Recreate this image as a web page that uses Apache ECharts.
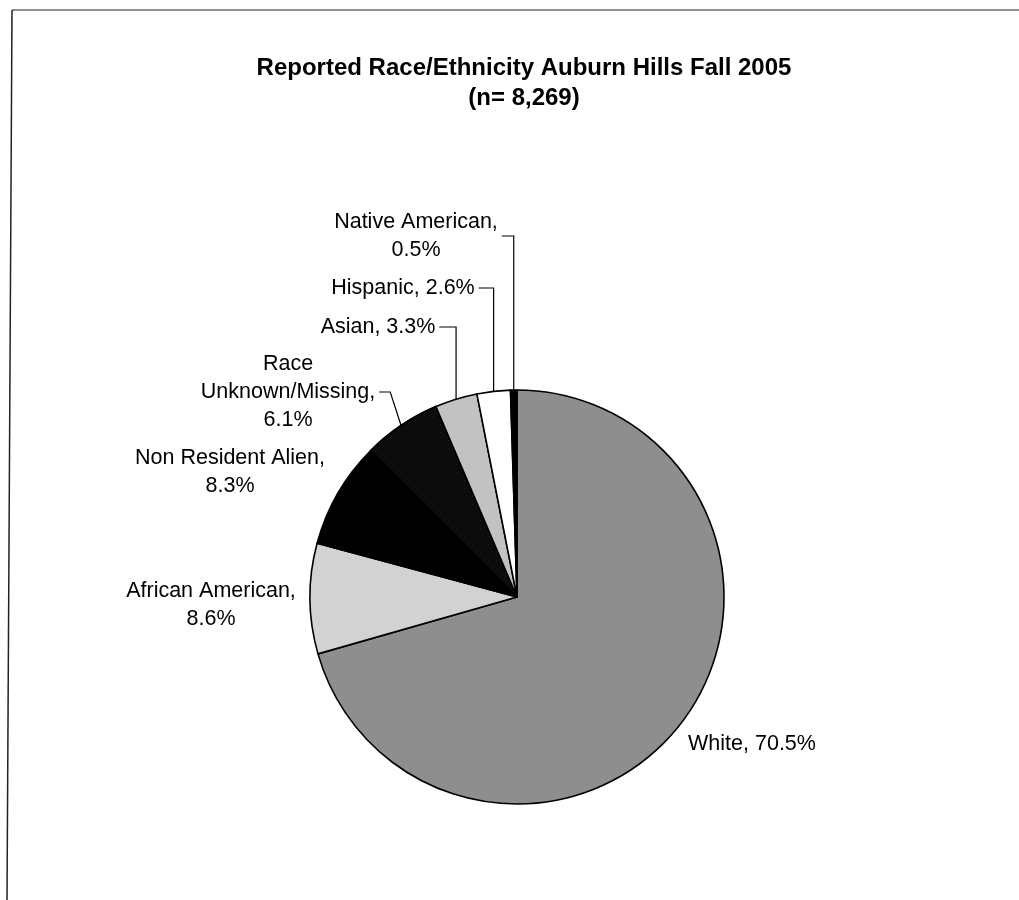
<!DOCTYPE html>
<html>
<head>
<meta charset="utf-8">
<script src="https://cdn.jsdelivr.net/npm/echarts@6/dist/echarts.min.js"></script>
<style>
html,body{margin:0;padding:0;background:#fff;}
#chart{width:1019px;height:900px;}
</style>
</head>
<body>
<div id="chart"></div>
<script>
// ---- data ----
const categories = ['White', 'African American', 'Non Resident Alien', 'Race Unknown/Missing', 'Asian', 'Hispanic', 'Native American'];
const percents = [70.5, 8.6, 8.3, 6.1, 3.3, 2.6, 0.5];
const titleLines = ['Reported Race/Ethnicity Auburn Hills Fall 2005', '(n= 8,269)'];

// ---- label text wrapping (display only) ----
const labelNames = ['White', 'African American', 'Non Resident Alien', 'Race\nUnknown/Missing', 'Asian', 'Hispanic', 'Native American'];
const labelSeps = [', ', ',\n', ',\n', ',\n', ', ', ', ', ',\n'];

// ---- styles ----
const fills = ['#8e8e8e', '#d2d2d2', '#000000', '#0c0c0c', '#c2c2c2', '#ffffff', '#000000'];
const labelPlace = [
  { x: 752, y: 744, leader: null },
  { x: 211, y: 605, leader: null },
  { x: 230, y: 472, leader: null },
  { x: 288, y: 392, leader: 'elbow' },
  { x: 378, y: 327, leader: 'vertical' },
  { x: 403, y: 288, leader: 'vertical' },
  { x: 416, y: 236, leader: 'vertical' }
];

const chart = echarts.init(document.getElementById('chart'));

const data = categories.map((c, i) => {
  const item = {
    name: c,
    value: percents[i],
    itemStyle: { color: fills[i] },
    labelLine: { show: !!labelPlace[i].leader }
  };
  if (i === 3) {
    item.itemStyle.decal = {
      symbol: 'rect',
      symbolSize: 0.35,
      color: 'rgba(255,255,255,0.5)',
      dashArrayX: [[1, 7]],
      dashArrayY: [1, 7],
      rotation: 0
    };
  }
  return item;
});

chart.setOption({
  backgroundColor: '#ffffff',
  animation: false,
  title: {
    text: titleLines.join('\n'),
    left: 519,
    top: 48,
    textAlign: 'center',
    textStyle: {
      fontFamily: 'Liberation Sans, Arial, sans-serif',
      fontSize: 24,
      fontWeight: 'bold',
      color: '#000',
      lineHeight: 30
    }
  },
  graphic: [
    { type: 'line', shape: { x1: 12, y1: 10, x2: 1019, y2: 10 }, style: { stroke: '#222', lineWidth: 1.2 } },
    { type: 'line', shape: { x1: 12, y1: 10, x2: 7, y2: 900 }, style: { stroke: '#222', lineWidth: 1.5 } }
  ],
  series: [{
    type: 'pie',
    center: [517, 597],
    radius: 207,
    startAngle: 90,
    clockwise: true,
    avoidLabelOverlap: false,
    data: data,
    itemStyle: { borderColor: '#000', borderWidth: 1.6 },
    label: {
      show: true,
      position: 'outside',
      fontFamily: 'Liberation Sans, Arial, sans-serif',
      fontSize: 21.5,
      color: '#000',
      lineHeight: 28,
      align: 'center',
      formatter: function (p) {
        const i = p.dataIndex;
        return labelNames[i] + labelSeps[i] + p.value.toFixed(1) + '%';
      }
    },
    labelLine: {
      show: true,
      lineStyle: { color: '#000', width: 1.2 }
    },
    labelLayout: function (p) {
      const i = p.dataIndex;
      const L = labelPlace[i];
      const out = { x: L.x, y: L.y, align: 'center', verticalAlign: 'middle' };
      if (L.leader && p.labelLinePoints) {
        const start = p.labelLinePoints[0];
        const endX = L.x + p.labelRect.width / 2 + 4;
        const cornerX = L.leader === 'vertical' ? start[0] : endX + 11;
        out.labelLinePoints = [start, [cornerX, L.y], [endX, L.y]];
      }
      return out;
    },
    emphasis: { disabled: true }
  }]
});
</script>
</body>
</html>
